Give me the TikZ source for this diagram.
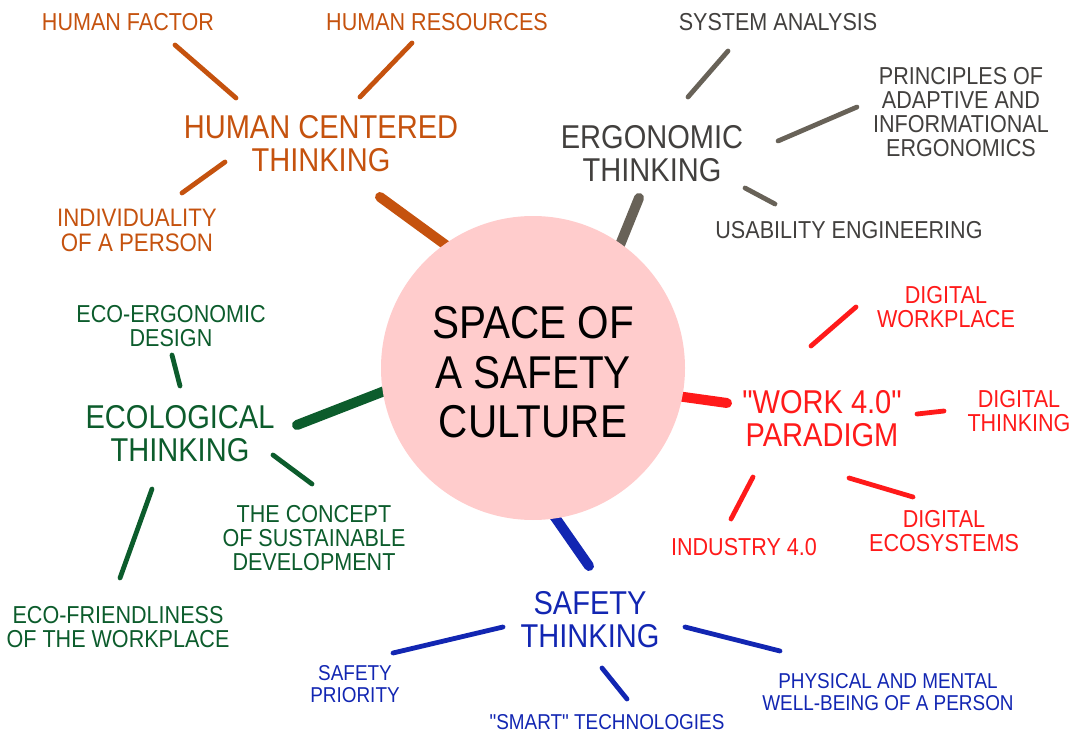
\documentclass[tikz,border=0pt]{standalone}
\usepackage{fontspec}
\setmainfont[FakeStretch=0.88, Ligatures=TeXOff]{Liberation Sans}
\definecolor{hcorange}{RGB}{197,82,14}
\definecolor{ergtext}{RGB}{66,64,62}
\definecolor{ergline}{RGB}{104,98,88}
\definecolor{ecogreen}{RGB}{12,92,44}
\definecolor{workred}{RGB}{255,26,26}
\definecolor{safeblue}{RGB}{18,38,178}
\definecolor{corepink}{RGB}{255,204,204}
\begin{document}
\begin{tikzpicture}[x=1pt,y=-1pt,
  hub/.style={font=\fontsize{46}{49.5}\selectfont, align=center, inner sep=0pt},
  topic/.style={font=\fontsize{33}{33}\selectfont, align=center, inner sep=0pt},
  leaf/.style={font=\fontsize{24.5}{24}\selectfont, align=center, inner sep=0pt},
  smallleaf/.style={font=\fontsize{21.5}{22}\selectfont, align=center, inner sep=0pt},
  spoke/.style={line width=10pt, line cap=round},
  twig/.style={line width=4.8pt, line cap=round}]
\useasboundingbox (0,0) rectangle (1077,733);

% ---- end points of the spokes and twigs ----
\coordinate (hub) at (533,368);
% human centered thinking
\coordinate (hcS1) at (469,262);  \coordinate (hcS2) at (380,197);
\coordinate (hfA) at (236,98);    \coordinate (hfB) at (175,45);
\coordinate (hrA) at (360,97);    \coordinate (hrB) at (412,43);
\coordinate (inA) at (225,162);   \coordinate (inB) at (182,193);
% ergonomic thinking
\coordinate (erS1) at (609,272);  \coordinate (erS2) at (639,198);
\coordinate (saA) at (688,97);    \coordinate (saB) at (728,51);
\coordinate (prA) at (778,141);   \coordinate (prB) at (857,107);
\coordinate (usA) at (745,188);   \coordinate (usB) at (775,204);
% ecological thinking
\coordinate (ecS1) at (418,378);  \coordinate (ecS2) at (297,425);
\coordinate (edA) at (180,386);   \coordinate (edB) at (172,355);
\coordinate (coA) at (273,455);   \coordinate (coB) at (312,484);
\coordinate (efA) at (152,489);   \coordinate (efB) at (120,578);
% work 4.0 paradigm
\coordinate (wkS1) at (648,392);  \coordinate (wkS2) at (727,403);
\coordinate (dwA) at (811,346);   \coordinate (dwB) at (856,307);
\coordinate (dtA) at (917,414);   \coordinate (dtB) at (944,411);
\coordinate (idA) at (753,477);   \coordinate (idB) at (731,519);
\coordinate (deA) at (849,478);   \coordinate (deB) at (913,497);
% safety thinking
\coordinate (sfS1) at (543,500);  \coordinate (sfS2) at (589,566);
\coordinate (spA) at (503,627);   \coordinate (spB) at (393,653);
\coordinate (smA) at (602,668);   \coordinate (smB) at (627,699);
\coordinate (phA) at (685,627);   \coordinate (phB) at (780,651);

% ---- spokes (run under the central disc) ----
\draw[spoke, hcorange] (hcS1) -- (hcS2);
\draw[spoke, ergline]  (erS1) -- (erS2);
\draw[spoke, ecogreen] (ecS1) -- (ecS2);
\draw[spoke, workred]  (wkS1) -- (wkS2);
\draw[spoke, safeblue] (sfS1) -- (sfS2);

% ---- twigs ----
\draw[twig, hcorange] (hfA) -- (hfB);
\draw[twig, hcorange] (hrA) -- (hrB);
\draw[twig, hcorange] (inA) -- (inB);
\draw[twig, ergline]  (saA) -- (saB);
\draw[twig, ergline]  (prA) -- (prB);
\draw[twig, ergline]  (usA) -- (usB);
\draw[twig, ecogreen] (edA) -- (edB);
\draw[twig, ecogreen] (coA) -- (coB);
\draw[twig, ecogreen] (efA) -- (efB);
\draw[twig, workred]  (dwA) -- (dwB);
\draw[twig, workred]  (dtA) -- (dtB);
\draw[twig, workred]  (idA) -- (idB);
\draw[twig, workred]  (deA) -- (deB);
\draw[twig, safeblue] (spA) -- (spB);
\draw[twig, safeblue] (smA) -- (smB);
\draw[twig, safeblue] (phA) -- (phB);

% ---- central disc ----
\node[circle, fill=corepink, minimum size=304pt, inner sep=0pt] (core) at (hub) {};
\node[hub] (coretext) at (533,372.5) {SPACE OF\\A SAFETY\\CULTURE};

% ---- human centered thinking ----
\begin{scope}[text=hcorange]
\node[topic] (hcen)  at (321,143.5) {HUMAN CENTERED\\THINKING};
\node[leaf]  (hfac)  at (128,22)    {HUMAN FACTOR};
\node[leaf]  (hres)  at (437,22)    {HUMAN RESOURCES};
\node[leaf, font=\fontsize{25.3}{25}\selectfont] (indiv) at (137,230.5) {INDIVIDUALITY\\OF A PERSON};
\end{scope}

% ---- ergonomic thinking ----
\begin{scope}[text=ergtext]
\node[topic] (ergo)  at (652,153.5) {ERGONOMIC\\THINKING};
\node[leaf]  (sys)   at (778,22)    {SYSTEM ANALYSIS};
\node[leaf]  (princ) at (961,112.5) {PRINCIPLES OF\\ADAPTIVE AND\\INFORMATIONAL\\ERGONOMICS};
\node[leaf]  (usab)  at (849,230)   {USABILITY ENGINEERING};
\end{scope}

% ---- ecological thinking ----
\begin{scope}[text=ecogreen]
\node[topic] (ecol)    at (180,434)   {ECOLOGICAL\\THINKING};
\node[leaf]  (ecodes)  at (171,326.5) {ECO-ERGONOMIC\\DESIGN};
\node[leaf]  (concept) at (314,538.5) {THE CONCEPT\\OF SUSTAINABLE\\DEVELOPMENT};
\node[leaf]  (ecofr)   at (118,627)   {ECO-FRIENDLINESS\\OF THE WORKPLACE};
\end{scope}

% ---- work 4.0 paradigm ----
\begin{scope}[text=workred]
\node[topic] (work)   at (822,418.5)  {"WORK 4.0"\\PARADIGM};
\node[leaf]  (dwork)  at (946,307.5)  {DIGITAL\\WORKPLACE};
\node[leaf]  (dthink) at (1019,411.5) {DIGITAL\\THINKING};
\node[leaf]  (indus)  at (744,547)    {INDUSTRY 4.0};
\node[leaf]  (deco)   at (944,531.5)  {DIGITAL\\ECOSYSTEMS};
\end{scope}

% ---- safety thinking ----
\begin{scope}[text=safeblue]
\node[topic]     (safe)  at (590,620)   {SAFETY\\THINKING};
\node[smallleaf] (sprio) at (355,684)   {SAFETY\\PRIORITY};
\node[smallleaf] (smart) at (607,722)   {"SMART" TECHNOLOGIES};
\node[smallleaf] (phys)  at (888,692)   {PHYSICAL AND MENTAL\\WELL-BEING OF A PERSON};
\end{scope}
\end{tikzpicture}
\end{document}
